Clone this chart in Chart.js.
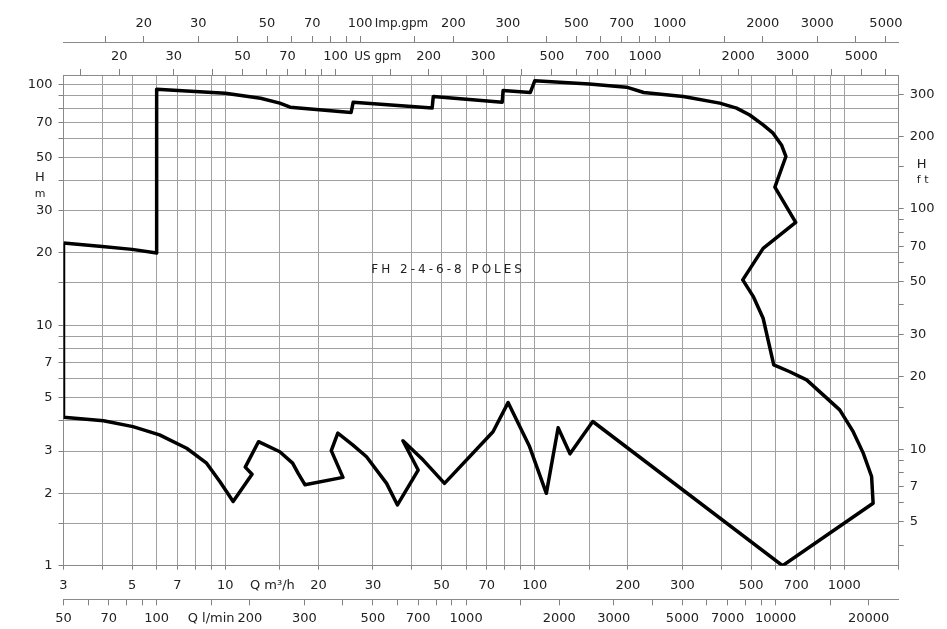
<!DOCTYPE html>
<html>
<head>
<meta charset="utf-8">
<script src="https://cdn.jsdelivr.net/npm/chart.js@4.4.0/dist/chart.umd.min.js"></script>
<style>
  html, body { margin: 0; padding: 0; background: #fff; }
  #wrap { width: 947px; height: 629px; }
</style>
</head>
<body>
<div id="wrap"><canvas id="chart"></canvas></div>
<script>
// outline of the FH range, Q in m3/h and H in m
const qData = [3, 4, 5, 6, 6, 8, 10, 13, 15, 16.2, 25.5, 25.9, 46.6, 47, 78.5, 79, 96.7, 100,
  150, 198, 225, 302, 396, 449, 495, 547, 589, 627, 648, 597, 697, 547, 470, 508, 547, 592,
  667, 756, 967, 1069, 1152, 1226, 1240, 632, 154, 130, 119, 109, 96.2, 82, 73.3, 51.1, 43.6,
  37.5, 42, 36, 33.2, 28.6, 25.8, 23.1, 22, 24, 18.1, 17.2, 16.5, 15, 12.8, 11.6, 12.2, 10.6,
  9.6, 8.7, 7.5, 6.13, 5.03, 4.04, 3, 3];
const hData = [22, 21.3, 20.7, 20, 96, 94, 92.4, 88, 84, 80.8, 76.8, 84.8, 80.1, 89.5, 84.8, 94.8, 93, 104,
  101, 97.9, 93, 89.5, 84, 80.1, 75, 68.2, 63, 56.3, 50.4, 37.6, 26.8, 20.9, 15.45, 13.2, 10.7, 6.84,
  6.41, 5.93, 4.45, 3.61, 2.94, 2.35, 1.82, 1.0, 3.98, 2.92, 3.75, 2.0, 3.13, 4.77, 3.61, 2.2, 2.75,
  3.31, 2.5, 1.79, 2.2, 2.84, 3.18, 3.56, 3.01, 2.33, 2.17, 2.42, 2.67, 2.98, 3.28, 2.57, 2.4, 1.85,
  2.24, 2.67, 3.08, 3.5, 3.79, 4.01, 4.15, 22];

const qTicks = [3, 4, 5, 6, 7, 8, 9, 10, 15, 20, 30, 40, 50, 60, 70, 80, 90, 100, 150, 200, 300, 400,
  500, 600, 700, 800, 900, 1000, 1500];
const qLabels = [3, 5, 7, 10, 20, 30, 50, 70, 100, 200, 300, 500, 700, 1000];
const lminTicks = [50, 60, 70, 80, 90, 100, 150, 200, 300, 400, 500, 600, 700, 800, 900, 1000, 1500,
  2000, 3000, 4000, 5000, 6000, 7000, 8000, 9000, 10000, 15000, 20000];
const lminLabels = [50, 70, 100, 200, 300, 500, 700, 1000, 2000, 3000, 5000, 7000, 10000, 20000];
const usTicks = [15, 20, 30, 40, 50, 60, 70, 80, 90, 100, 150, 200, 300, 400, 500, 600, 700, 800, 900,
  1000, 1500, 2000, 3000, 4000, 5000, 6000];
const impTicks = [15, 20, 30, 40, 50, 60, 70, 80, 90, 100, 150, 200, 300, 400, 500, 600, 700, 800, 900,
  1000, 1500, 2000, 3000, 4000, 5000];
const gpmLabels = [20, 30, 50, 70, 100, 200, 300, 500, 700, 1000, 2000, 3000, 5000];
const hTicks = [1, 1.5, 2, 3, 4, 5, 6, 7, 8, 9, 10, 15, 20, 30, 40, 50, 60, 70, 80, 90, 100];
const hLabels = [1, 2, 3, 5, 7, 10, 20, 30, 50, 70, 100];
const ftTicks = [4, 5, 6, 7, 8, 9, 10, 15, 20, 30, 40, 50, 60, 70, 80, 90, 100, 150, 200, 300];
const ftLabels = [5, 7, 10, 20, 30, 50, 70, 100, 200, 300];

const Q_MIN = 3, Q_MAX = 1500, H_MIN = 1, H_MAX = 110;
const LMIN = 16.6667, USGPM = 4.40287, IMPGPM = 3.66615, FT = 3.28084;
const FONT = "DejaVu Sans";

function logAxis(o) {
  return {
    type: "logarithmic",
    position: o.position,
    weight: o.weight,
    min: o.min,
    max: o.max,
    afterBuildTicks: (s) => { s.ticks = o.ticks.map((v) => ({ value: v })); },
    afterFit: (s) => {
      if (s.isHorizontal()) s.height = o.size;
      else s.width = o.size;
    },
    ticks: {
      autoSkip: false,
      maxRotation: 0,
      minRotation: 0,
      padding: o.padding,
      color: "#222",
      font: { family: FONT, size: 13 },
      callback: (v) => (o.extra && o.extra[v]) || (o.labels.includes(v) ? String(v) : ""),
    },
    grid: {
      drawOnChartArea: o.onChart,
      color: "#a0a0a0",
      tickColor: "#808080",
      tickLength: o.tick,
      lineWidth: 1,
    },
    border: { display: true, color: "#8a8a8a", width: 1 },
  };
}

const notes = {
  id: "notes",
  afterDraw(chart) {
    const { ctx, scales } = chart;
    ctx.save();
    ctx.fillStyle = "#222";
    ctx.textAlign = "center";
    ctx.textBaseline = "middle";
    ctx.font = "13px '" + FONT + "'";
    ctx.fillText("Q m³/h", scales.x.getPixelForValue(14.2), scales.x.top + 20);
    ctx.fillText("H", scales.y.right - 23.5, scales.y.getPixelForValue(41.3));
    ctx.fillText("H", scales.ft.left + 23, scales.y.getPixelForValue(46.5));
    ctx.font = "12px '" + FONT + "'";
    ctx.fillText("US gpm", scales.us.getPixelForValue(137), scales.us.bottom - 18.3);
    ctx.fillText("Imp.gpm", scales.imp.getPixelForValue(136), scales.imp.bottom - 18.4);
    ctx.font = "11px '" + FONT + "'";
    ctx.fillText("m", scales.y.right - 23.5, scales.y.getPixelForValue(35));
    ctx.fillText("f t", scales.ft.left + 24, scales.y.getPixelForValue(40.3));
    ctx.font = "12px '" + FONT + "'";
    ctx.letterSpacing = "3px";
    ctx.fillText("FH 2-4-6-8 POLES", scales.x.getPixelForValue(52.5), scales.y.getPixelForValue(17));
    ctx.restore();
  },
};

const canvas = document.getElementById("chart");
const chart = new Chart(canvas, {
  type: "scatter",
  data: {
    datasets: [
      {
        data: qData.map((q, i) => ({ x: q, y: hData[i] })),
        showLine: true,
        borderColor: "#000",
        borderWidth: 3.5,
        borderJoinStyle: "round",
        pointRadius: 0,
        tension: 0,
        fill: false,
      },
    ],
  },
  options: {
    responsive: true,
    maintainAspectRatio: false,
    animation: false,
    layout: { padding: 0 },
    plugins: { legend: { display: false }, tooltip: { enabled: false } },
    scales: {
      x: logAxis({ position: "bottom", weight: 0, min: Q_MIN, max: Q_MAX, ticks: qTicks, labels: qLabels,
        size: 33.6, padding: 8, tick: 4, onChart: true }),
      lmin: logAxis({ position: "bottom", weight: 1, min: Q_MIN * LMIN, max: Q_MAX * LMIN, ticks: lminTicks,
        labels: lminLabels, extra: { 150: "Q l/min" }, size: 29.7, padding: 6, tick: 6, onChart: false }),
      us: logAxis({ position: "top", weight: 0, min: Q_MIN * USGPM, max: Q_MAX * USGPM, ticks: usTicks,
        labels: gpmLabels, size: 33, padding: 4.5, tick: 6, onChart: false }),
      imp: logAxis({ position: "top", weight: 1, min: Q_MIN * IMPGPM, max: Q_MAX * IMPGPM, ticks: impTicks,
        labels: gpmLabels, size: 42, padding: 4.6, tick: 6, onChart: false }),
      y: logAxis({ position: "left", weight: 0, min: H_MIN, max: H_MAX, ticks: hTicks, labels: hLabels,
        size: 63.5, padding: 6, tick: 5, onChart: true }),
      ft: logAxis({ position: "right", weight: 0, min: H_MIN * FT, max: H_MAX * FT, ticks: ftTicks,
        labels: ftLabels, size: 48.3, padding: 6, tick: 5, onChart: false }),
    },
  },
  plugins: [notes],
});
</script>
</body>
</html>
